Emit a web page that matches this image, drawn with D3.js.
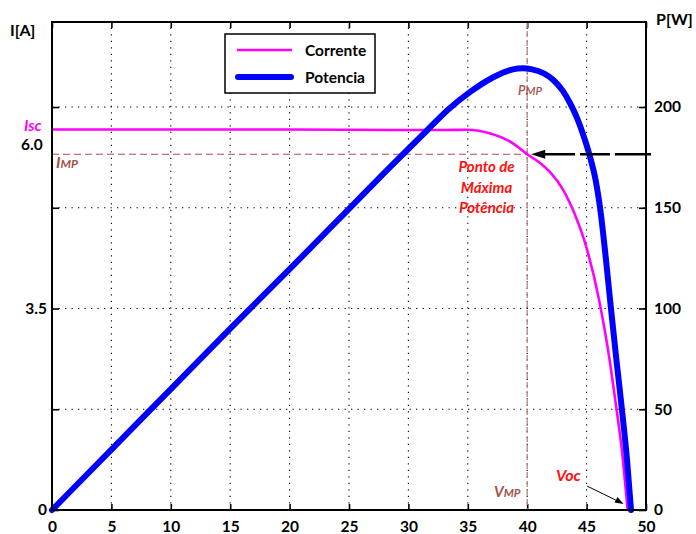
<!DOCTYPE html>
<html>
<head>
<meta charset="utf-8">
<script src="https://cdn.jsdelivr.net/npm/d3@7"></script>
<style>
  html, body { margin: 0; padding: 0; background: #fff; }
  svg { display: block; font-family: "Lato", "Liberation Sans", sans-serif; }
</style>
</head>
<body>
<svg id="chart" width="696" height="534"></svg>
<script>
// Curva I-V e P-V de um módulo fotovoltaico
const voltageI = [0, 10, 20, 29, 33, 35, 36.9, 38.8, 40, 41, 42, 43, 44, 45, 46, 47, 47.5, 48, 48.45];
const corrente = [6.61, 6.61, 6.61, 6.60, 6.60, 6.605, 6.54, 6.37, 6.18, 6.04, 5.85, 5.57, 5.14, 4.55, 3.70, 2.52, 1.78, 0.98, 0];

const voltageP = [0, 5, 10, 15, 20, 25, 28.2, 31.6, 33.4, 35.2, 37.15, 38.8, 39.6, 40.4, 42.2, 43.0, 43.6, 44.2, 44.7, 45.3, 45.75, 46.2, 46.6, 47.05, 47.5, 47.98, 48.4, 48.74];
const potencia = [0, 30, 60, 90, 119.5, 149.5, 168.7, 188.6, 199, 207.5, 214.8, 218.7, 219.2, 218.7, 213.4, 208, 202, 194.5, 186.5, 175, 164, 147, 126, 100, 75, 49.6, 25, 0];

const xTicks = [0, 5, 10, 15, 20, 25, 30, 35, 40, 45, 50];
const iTicks = [0, 1.75, 3.5, 5.25, 7];
const iTickLabels = ["0", "", "3.5", "", ""];
const pTicks = [0, 50, 100, 150, 200];

// Ponto de máxima potência e pontos característicos
const vmp = 40;
const imp = 6.18;
const voc = 48.45;

const svg = d3.select("#chart");
const L = 52, R = 646, T = 22, B = 510;

const x = d3.scaleLinear().domain([0, 50]).range([L, R]);
const yP = d3.scaleLinear().domain([0, 242.2]).range([B, T]);
const yI = d3.scaleLinear().domain([0, 242.2 * 0.035]).range([B, T]);

// Grade pontilhada
const grid = svg.append("g").attr("stroke", "#000").attr("stroke-width", 1.1)
  .attr("stroke-dasharray", "1.3,5.2");
xTicks.slice(1, -1).forEach(v => {
  grid.append("line").attr("x1", x(v)).attr("x2", x(v)).attr("y1", B).attr("y2", T);
});
pTicks.slice(1).forEach(v => {
  grid.append("line").attr("x1", L).attr("x2", R).attr("y1", yP(v)).attr("y2", yP(v));
});

// Eixos com marcas internas
const fontTick = g => g.selectAll("text")
  .attr("font-size", 15.5).attr("font-weight", 700).attr("fill", "#000")
  .attr("font-family", "Lato, 'Liberation Sans', sans-serif");

svg.append("g").attr("transform", `translate(0,${B})`)
  .call(d3.axisBottom(x).tickValues(xTicks).tickFormat(d3.format("d"))
    .tickSizeInner(-6).tickSizeOuter(0).tickPadding(11))
  .call(g => g.select(".domain").remove())
  .call(g => g.selectAll("line").attr("stroke-width", 1.6))
  .call(fontTick);

svg.append("g").attr("transform", `translate(0,${T})`)
  .call(d3.axisTop(x).tickValues(xTicks).tickFormat("")
    .tickSizeInner(-6).tickSizeOuter(0))
  .call(g => g.select(".domain").remove())
  .call(g => g.selectAll("line").attr("stroke-width", 1.6));

svg.append("g").attr("transform", `translate(${L},0)`)
  .call(d3.axisLeft(yI).tickValues(iTicks).tickFormat((d, i) => iTickLabels[i])
    .tickSizeInner(-7).tickSizeOuter(0).tickPadding(5))
  .call(g => g.select(".domain").remove())
  .call(g => g.selectAll("line").attr("stroke-width", 1.6))
  .call(fontTick);

svg.append("g").attr("transform", `translate(${R},0)`)
  .call(d3.axisRight(yP).tickValues(pTicks).tickFormat(d3.format("d"))
    .tickSizeInner(-7).tickSizeOuter(0).tickPadding(8))
  .call(g => g.select(".domain").remove())
  .call(g => g.selectAll("line").attr("stroke-width", 1.6))
  .call(fontTick);

// Linhas tracejadas do ponto de máxima potência
const brown = "#a3524b";
svg.append("line").attr("x1", x(vmp)).attr("x2", x(vmp)).attr("y1", T).attr("y2", B)
  .attr("stroke", "#b98580").attr("stroke-width", 1.3).attr("stroke-dasharray", "6,3");
svg.append("line").attr("x1", L).attr("x2", x(vmp)).attr("y1", yI(imp)).attr("y2", yI(imp))
  .attr("stroke", brown).attr("stroke-width", 1.2).attr("stroke-dasharray", "7,4");

// Curvas
const lineI = d3.line().x((d, i) => x(voltageI[i])).y(d => yI(d)).curve(d3.curveMonotoneX);
const lineP = d3.line().x((d, i) => x(voltageP[i])).y(d => yP(d)).curve(d3.curveMonotoneX);

svg.append("path").datum(corrente).attr("d", lineI)
  .attr("fill", "none").attr("stroke", "#ff00ff").attr("stroke-width", 2.6);
svg.append("path").datum(potencia).attr("d", lineP)
  .attr("fill", "none").attr("stroke", "#0000ff").attr("stroke-width", 6)
  .attr("stroke-linejoin", "round").attr("stroke-linecap", "round");

// Moldura
svg.append("rect").attr("x", L).attr("y", T).attr("width", R - L).attr("height", B - T)
  .attr("fill", "none").attr("stroke", "#000").attr("stroke-width", 2);

// Seta indicando o ponto de máxima potência
const tipX = x(vmp) + 4, tipY = yI(imp);
svg.append("line").attr("x1", 651).attr("x2", tipX + 12).attr("y1", tipY).attr("y2", tipY)
  .attr("stroke", "#000").attr("stroke-width", 2.6).attr("stroke-dasharray", "36,5,30,5,60");
svg.append("path")
  .attr("d", `M${tipX},${tipY} L${tipX + 14},${tipY - 4.5} L${tipX + 14},${tipY + 4.5} Z`)
  .attr("fill", "#000");

// Seta de Voc
const vocX = x(voc) - 4, vocY = B - 6;
svg.append("line").attr("x1", 587).attr("y1", 486).attr("x2", vocX - 6).attr("y2", vocY - 3)
  .attr("stroke", "#000").attr("stroke-width", 1);
svg.append("path")
  .attr("d", `M${vocX},${vocY} L${vocX - 9},${vocY - 1.5} L${vocX - 6},${vocY - 7} Z`)
  .attr("fill", "#000");

// Títulos dos eixos
svg.append("text").attr("x", 10).attr("y", 36).text("I[A]")
  .attr("font-size", 16).attr("font-weight", 700);
svg.append("text").attr("x", 656).attr("y", 25).text("P[W]")
  .attr("font-size", 16).attr("font-weight", 700);

// Anotações
svg.append("text").attr("x", 24).attr("y", 131).text("Isc")
  .attr("font-size", 15.5).attr("font-weight", 700).attr("font-style", "italic").attr("fill", "#ff00ff");
svg.append("text").attr("x", 21).attr("y", 150).text("6.0")
  .attr("font-size", 15.5).attr("font-weight", 700);

const tImp = svg.append("text").attr("x", 56).attr("y", 168)
  .attr("font-weight", 700).attr("font-style", "italic").attr("fill", brown);
tImp.append("tspan").attr("font-size", 16).text("I");
tImp.append("tspan").attr("font-size", 12).text("MP");

const tPmp = svg.append("text").attr("x", 518).attr("y", 95)
  .attr("font-style", "italic").attr("fill", brown).attr("font-weight", 600);
tPmp.append("tspan").attr("font-size", 13).text("P");
tPmp.append("tspan").attr("font-size", 11.5).text("MP");

const tVmp = svg.append("text").attr("x", 494).attr("y", 497)
  .attr("font-style", "italic").attr("fill", brown).attr("font-weight", 700);
tVmp.append("tspan").attr("font-size", 15).text("V");
tVmp.append("tspan").attr("font-size", 11.5).text("MP");

svg.append("text").attr("x", 556).attr("y", 481).text("Voc")
  .attr("font-size", 16).attr("font-weight", 700).attr("font-style", "italic").attr("fill", "#ff1010");

const mpp = ["Ponto de", "Máxima", "Potência"];
svg.append("g").selectAll("text").data(mpp).join("text")
  .attr("x", 486.5).attr("y", (d, i) => 172 + i * 20.7)
  .attr("text-anchor", "middle").text(d => d)
  .attr("font-size", 15).attr("font-weight", 700).attr("font-style", "italic").attr("fill", "#ff1010");

// Legenda
const leg = svg.append("g");
leg.append("rect").attr("x", 225).attr("y", 34).attr("width", 150).attr("height", 59)
  .attr("fill", "#fff").attr("stroke", "#000").attr("stroke-width", 1.5);
leg.append("line").attr("x1", 237).attr("x2", 292).attr("y1", 50).attr("y2", 50)
  .attr("stroke", "#ff00ff").attr("stroke-width", 2.6);
leg.append("line").attr("x1", 238).attr("x2", 291).attr("y1", 77).attr("y2", 77)
  .attr("stroke", "#0000ff").attr("stroke-width", 6).attr("stroke-linecap", "round");
leg.append("text").attr("x", 305).attr("y", 56).text("Corrente")
  .attr("font-size", 15.5).attr("font-weight", 700);
leg.append("text").attr("x", 305).attr("y", 83).text("Potencia")
  .attr("font-size", 15.5).attr("font-weight", 700);
</script>
</body>
</html>
